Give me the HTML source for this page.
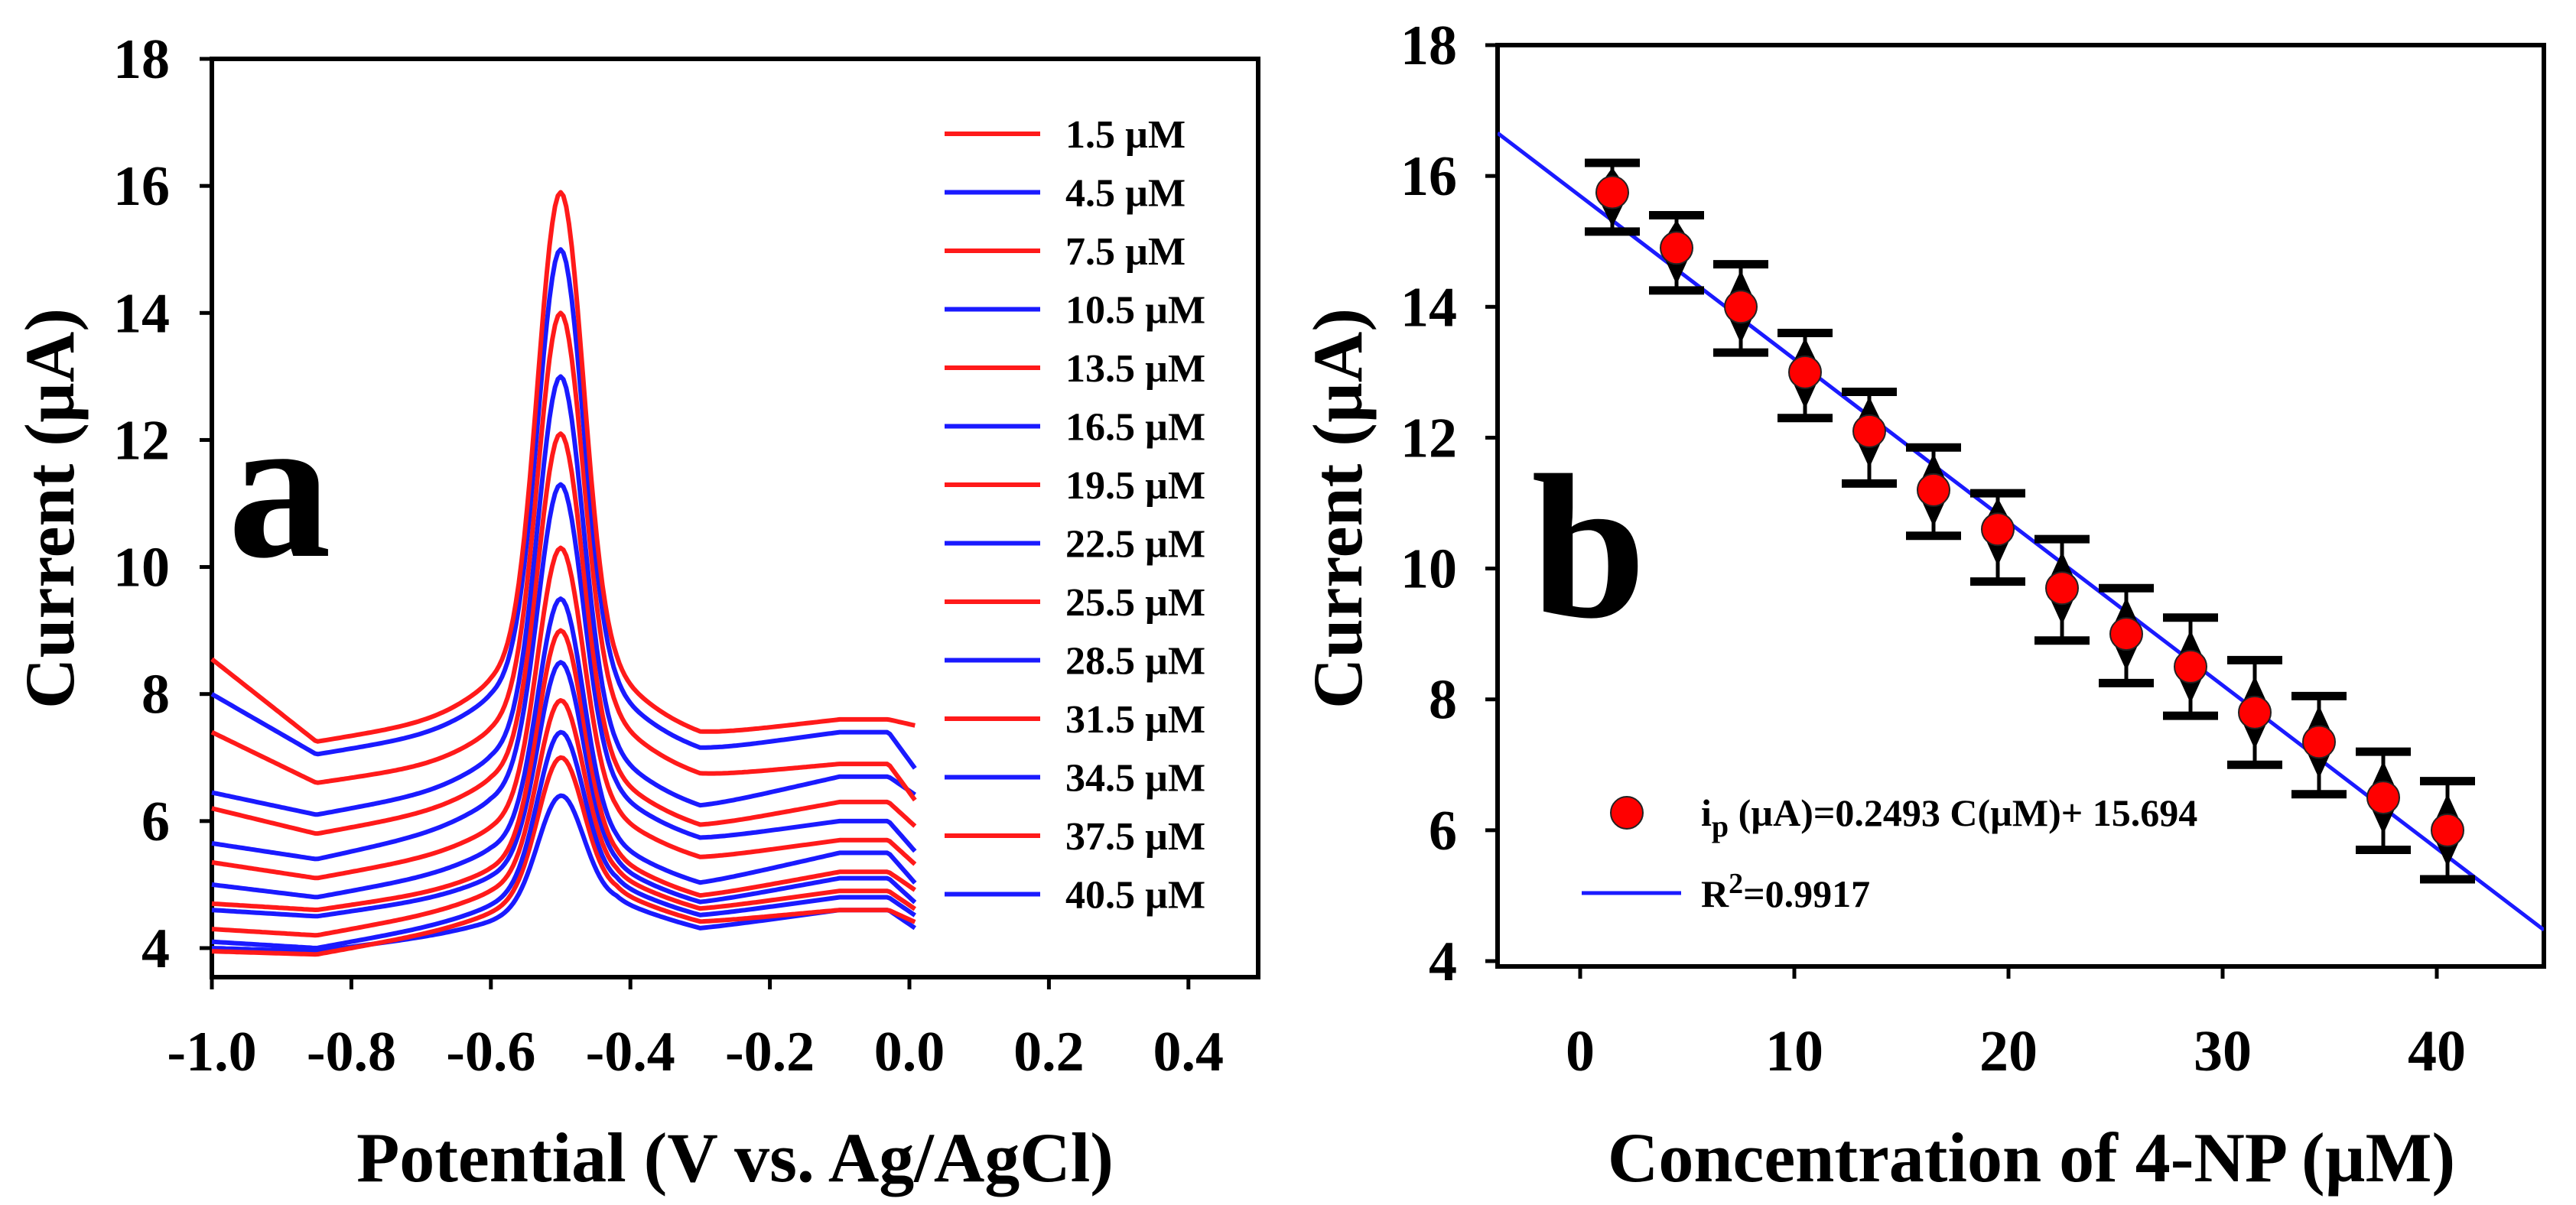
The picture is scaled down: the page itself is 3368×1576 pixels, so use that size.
<!DOCTYPE html>
<html><head><meta charset="utf-8">
<style>
html,body{margin:0;padding:0;background:#fff;}
svg{display:block;}
text{font-family:"Liberation Serif",serif;font-weight:bold;fill:#000;}
</style></head>
<body>
<svg id="fig" width="3368" height="1576" viewBox="0 0 3368 1576" xmlns="http://www.w3.org/2000/svg">
<g id="panelA"></g>
<g id="panelB"></g>
</svg>
<script>
// ---- Panel A data ----
const concLabels = ["1.5 µM","4.5  µM","7.5 µM"," 10.5 µM","13.5 µM","16.5 µM","19.5 µM","22.5 µM","25.5 µM","28.5 µM","31.5 µM","34.5 µM","37.5 µM","40.5 µM"];
const startVals = [8.55,8.0,7.4,6.45,6.2,5.65,5.35,5.0,4.7,4.6,4.3,4.1,3.95,4.0];
const minVals   = [7.25,7.05,6.6,6.1,5.8,5.4,5.1,4.8,4.6,4.5,4.2,4.0,3.9,3.95];
const preVals   = [7.7,7.5,7.0,6.6,6.3,6.0,5.6,5.3,5.0,4.9,4.7,4.5,4.4,4.3];
const postVals  = [7.35,7.1,6.7,6.2,5.9,5.7,5.4,5.0,4.8,4.7,4.6,4.5,4.4,4.3];
const humpVals  = [7.6,7.4,6.9,6.7,6.3,6.0,5.7,5.5,5.2,5.1,4.9,4.8,4.6,4.6];
const endVals   = [7.5,6.8,6.3,6.4,5.9,5.5,5.3,5.0,4.9,4.7,4.6,4.5,4.4,4.3];
const peakVals  = [15.9,15.0,14.0,13.0,12.1,11.3,10.3,9.5,9.0,8.5,7.9,7.4,7.0,6.4];
const xTicksA = [-1.0,-0.8,-0.6,-0.4,-0.2,0.0,0.2,0.4];
const xTickLabelsA = ["-1.0","-0.8","-0.6","-0.4","-0.2","0.0","0.2","0.4"];
const yTicks = [4,6,8,10,12,14,16,18];

// ---- Panel B data ----
const concB = [1.5,4.5,7.5,10.5,13.5,16.5,19.5,22.5,25.5,28.5,31.5,34.5,37.5,40.5];
const currentB = [15.75,14.9,14.0,13.0,12.1,11.2,10.6,9.7,9.0,8.5,7.8,7.35,6.5,6.0];
const errTop = [16.2,15.4,14.65,13.6,12.7,11.85,11.15,10.45,9.7,9.25,8.6,8.05,7.2,6.75];
const errBot = [15.15,14.25,13.3,12.3,11.3,10.5,9.8,8.9,8.25,7.75,7.0,6.55,5.7,5.25];
const fitSlope = -0.2493;
const fitIntercept = 15.694;
const xTicksB = [0,10,20,30,40];

const NS="http://www.w3.org/2000/svg";
function mk(parent,tag,attrs,txt){const e=document.createElementNS(NS,tag);for(const k in attrs)e.setAttribute(k,attrs[k]);if(txt!==undefined)e.textContent=txt;parent.appendChild(e);return e;}

// ===== Panel A =====
const A=document.getElementById('panelA');
const aL=277,aR=1645,aT=77,aB=1278;
const xA=v=>aL+(v+1.0)/1.5*(aR-aL);
const yA=v=>1240-(v-4)*(1240-77)/14;
let r=mk(A,'rect',{x:aL,y:aT,width:aR-aL,height:aB-aT,fill:'none',stroke:'#000','stroke-width':6});


yTicks.forEach(t=>{
  let l=mk(A,'line',{x1:aL,x2:aL-16,y1:yA(t),y2:yA(t),stroke:'#000','stroke-width':5});
  
  
  let tx=mk(A,'text',{x:222,y:yA(t)+25,'font-size':74,'text-anchor':'end'},String(t));
  
  
});
xTicksA.forEach((t,i)=>{
  let l=mk(A,'line',{x1:xA(t),x2:xA(t),y1:aB,y2:aB+16,stroke:'#000','stroke-width':5});
  
  
  let tx=mk(A,'text',{x:xA(t),y:1400,'font-size':74,'text-anchor':'middle'},xTickLabelsA[i]);
  
  
});
let xt=mk(A,'text',{x:961,y:1545,'font-size':92,'text-anchor':'middle'},"Potential (V vs. Ag/AgCl)");


let yt=mk(A,'text',{x:0,y:0,'font-size':92,'text-anchor':'middle',transform:'translate(96,665) rotate(-90)'},"Current (µA)");


let la=mk(A,'text',{x:298,y:727,'font-size':270},"a");



const knotX=[-1.0,-0.85,-0.6,-0.42,-0.3,-0.1,-0.03,0.01];
function baseAt(i,x){
  const kv=[startVals[i],minVals[i],preVals[i],postVals[i]+0.3,postVals[i],humpVals[i],humpVals[i],endVals[i]];
  for(let k=0;k<knotX.length-1;k++){
    if(x<=knotX[k+1]){const f=(x-knotX[k])/(knotX[k+1]-knotX[k]);return kv[k]+f*(kv[k+1]-kv[k]);}
  }
  return kv[kv.length-1];
}
for(let i=peakVals.length-1;i>=0;i--){
  const amp=peakVals[i]-baseAt(i,-0.5);
  let d='';
  for(let x=-1.0;x<=0.0101;x+=0.004){
    const g=Math.exp(-Math.pow((x+0.5)/0.032,2)/2);
    const sh=0.12*amp*Math.exp(-Math.pow((x+0.5)/0.085,2)/2);
    const v=baseAt(i,x)+amp*g+sh*(1-g);
    d+=(d?'L':'M')+xA(x).toFixed(1)+','+yA(v).toFixed(1);
  }
  const col=i%2===0?'#ff1a1a':'#1a1aff';
  let p=mk(A,'path',{d:d,fill:'none',stroke:col,'stroke-width':6,'stroke-linejoin':'round'});
  
  
}
concLabels.forEach((lab,i)=>{
  const y=175+i*76.5;
  const col=i%2===0?'#ff1a1a':'#1a1aff';
  let l=mk(A,'line',{x1:1235,x2:1360,y1:y,y2:y,stroke:col,'stroke-width':6});
  
  
  let t=mk(A,'text',{x:1393,y:y+18,'font-size':52,'xml:space':'preserve'},lab);
  
  
});

// ===== Panel B =====
const B=document.getElementById('panelB');
const bL=1958,bR=3326,bT=59,bB=1264;
const xB=v=>2066+v*28;
const yB=v=>1257-(v-4)*(1257-59)/14;
let rb=mk(B,'rect',{x:bL,y:bT,width:bR-bL,height:bB-bT,fill:'none',stroke:'#000','stroke-width':6});


yTicks.forEach(t=>{
  let l=mk(B,'line',{x1:bL,x2:bL-16,y1:yB(t),y2:yB(t),stroke:'#000','stroke-width':5});
  
  
  let tx=mk(B,'text',{x:1905,y:yB(t)+25,'font-size':74,'text-anchor':'end'},String(t));
  
  
});
xTicksB.forEach(t=>{
  let l=mk(B,'line',{x1:xB(t),x2:xB(t),y1:bB,y2:bB+16,stroke:'#000','stroke-width':5});
  
  
  let tx=mk(B,'text',{x:xB(t),y:1400,'font-size':76,'text-anchor':'middle'},String(t));
  
  
});
let xtb=mk(B,'text',{x:2656,y:1545,'font-size':92,'text-anchor':'middle'},"Concentration of 4-NP (µM)");


let ytb=mk(B,'text',{x:0,y:0,'font-size':92,'text-anchor':'middle',transform:'translate(1780,665) rotate(-90)'},"Current (µA)");


let lb=mk(B,'text',{x:2002,y:806,'font-size':270},"b");



const clipDef=mk(B,'clipPath',{id:'clipB'});
mk(clipDef,'rect',{x:bL,y:bT,width:bR-bL,height:bB-bT});
const x0=(bL-2066)/28,x1=(bR-2066)/28;
let fl=mk(B,'line',{x1:xB(x0),y1:yB(fitIntercept+fitSlope*x0),x2:xB(x1),y2:yB(fitIntercept+fitSlope*x1),stroke:'#1a1aff','stroke-width':5,'clip-path':'url(#clipB)'});



concB.forEach((c,i)=>{
  const cx=xB(c),cy=yB(currentB[i]),yt=yB(errTop[i]),yb=yB(errBot[i]);
  const g=mk(B,'g',{});
  
  
  mk(g,'line',{x1:cx-36,x2:cx+36,y1:yt,y2:yt,stroke:'#000','stroke-width':11});
  mk(g,'line',{x1:cx-36,x2:cx+36,y1:yb,y2:yb,stroke:'#000','stroke-width':11});
  mk(g,'line',{x1:cx,x2:cx,y1:yt,y2:yb,stroke:'#000','stroke-width':5});
  mk(g,'polygon',{points:`${cx},${Math.max(yt+6,cy-48)} ${cx-20},${cy-4} ${cx+20},${cy-4}`,fill:'#000'});
  mk(g,'polygon',{points:`${cx},${Math.min(yb-6,cy+48)} ${cx-20},${cy+4} ${cx+20},${cy+4}`,fill:'#000'});
  mk(g,'circle',{cx:cx,cy:cy,r:21,fill:'#ff0000',stroke:'#222','stroke-width':2});
});

let lc=mk(B,'circle',{cx:2127,cy:1063,r:21,fill:'#ff0000',stroke:'#222','stroke-width':2});


let lt=mk(B,'text',{x:2224,y:1080,'font-size':50});


lt.innerHTML='i<tspan dy="14" font-size="40">p</tspan><tspan dy="-14"> (µA)=0.2493 C(µM)+ 15.694</tspan>';
let ll=mk(B,'line',{x1:2068,x2:2198,y1:1168,y2:1168,stroke:'#1a1aff','stroke-width':5});


let lt2=mk(B,'text',{x:2224,y:1186,'font-size':50});


lt2.innerHTML='R<tspan dy="-18" font-size="38">2</tspan><tspan dy="18">=0.9917</tspan>';
</script>
</body></html>
